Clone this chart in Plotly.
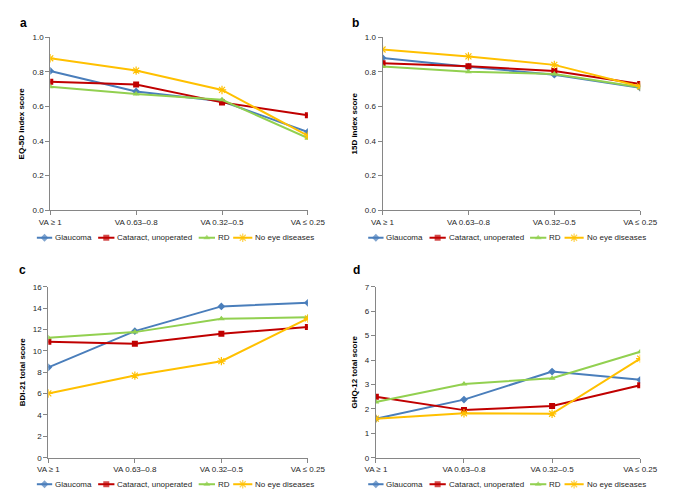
import plotly.graph_objects as go

categories = ["VA ≥ 1", "VA 0.63–0.8", "VA 0.32–0.5", "VA ≤ 0.25"]
series_names = ["Glaucoma", "Cataract, unoperated", "RD", "No eye diseases"]

eq5d_glaucoma = [0.806, 0.687, 0.630, 0.453]
eq5d_cataract = [0.744, 0.727, 0.624, 0.550]
eq5d_rd = [0.715, 0.672, 0.639, 0.417]
eq5d_noeye = [0.879, 0.808, 0.696, 0.431]

d15_glaucoma = [0.881, 0.830, 0.784, 0.708]
d15_cataract = [0.850, 0.833, 0.805, 0.731]
d15_rd = [0.831, 0.801, 0.788, 0.712]
d15_noeye = [0.930, 0.890, 0.841, 0.716]

bdi_glaucoma = [8.46, 11.85, 14.17, 14.50]
bdi_cataract = [10.87, 10.66, 11.60, 12.24]
bdi_rd = [11.24, 11.76, 13.01, 13.16]
bdi_noeye = [6.02, 7.69, 9.04, 13.04]

ghq_glaucoma = [1.60, 2.38, 3.53, 3.19]
ghq_cataract = [2.50, 1.95, 2.12, 2.97]
ghq_rd = [2.28, 3.02, 3.26, 4.34]
ghq_noeye = [1.60, 1.82, 1.80, 4.06]

colors = ["#4A7EBB", "#C00000", "#92D050", "#FFC000"]
symbols = ["diamond", "square", "triangle-up", "asterisk-open"]
msizes = [6, 6, 6, 7]

panels = [
    ("a", "EQ-5D index score", [eq5d_glaucoma, eq5d_cataract, eq5d_rd, eq5d_noeye], [0, 1], 0.2, "{:.1f}"),
    ("b", "15D index score", [d15_glaucoma, d15_cataract, d15_rd, d15_noeye], [0, 1], 0.2, "{:.1f}"),
    ("c", "BDI-21 total score", [bdi_glaucoma, bdi_cataract, bdi_rd, bdi_noeye], [0, 16], 2, "{:.0f}"),
    ("d", "GHQ-12 total score", [ghq_glaucoma, ghq_cataract, ghq_rd, ghq_noeye], [0, 7], 1, "{:.0f}"),
]

W, H = 685, 502
# layout boxes in pixels: (left, right, top, bottom)
boxes = [(41, 310, 34, 210), (388, 657, 34, 210), (39, 310, 288, 462), (381, 657, 288, 462)]
legend_y_px = [238, 238, 489, 489]
legend_x0_px = [0, 346, 0, 346]
legend_sym_start = [27, 91, 196, 232]
legend_sym_len = [16, 17, 17, 20]
label_pos = [(13, 19), (360, 19), (12, 271), (361, 271)]

fig = go.Figure()
font_family = "Liberation Sans, Arial, sans-serif"
axis_color = "#868686"
text_color = "#262626"

for i, (lab, ytitle, data, yr, dt, fmt) in enumerate(panels):
    n = i + 1
    xa = "x" if n == 1 else f"x{n}"
    ya = "y" if n == 1 else f"y{n}"
    for j, vals in enumerate(data):
        fig.add_trace(go.Scatter(
            x=categories, y=vals, name=series_names[j], mode="lines+markers",
            line=dict(color=colors[j], width=2),
            marker=dict(symbol=symbols[j], size=msizes[j], color=colors[j],
                        line=dict(color=colors[j], width=1.2 if j == 3 else 0)),
            xaxis=xa, yaxis=ya, showlegend=False,
        ))
    l, r, t, b = boxes[i]
    xkey = "xaxis" if n == 1 else f"xaxis{n}"
    ykey = "yaxis" if n == 1 else f"yaxis{n}"
    tickvals = []
    v = yr[0]
    while v <= yr[1] + 1e-9:
        tickvals.append(round(v, 4))
        v += dt
    fig.update_layout(**{
        xkey: dict(domain=[l / W, r / W], anchor=ya, type="category", range=[0, 3],
                   showline=True, linecolor=axis_color, linewidth=1, ticks="outside",
                   ticklen=4, tickcolor=axis_color, showgrid=False, zeroline=False,
                   tickfont=dict(size=8, color=text_color, family=font_family)),
        ykey: dict(domain=[1 - b / H, 1 - t / H], anchor=xa, range=yr,
                   tickvals=tickvals, ticktext=[fmt.format(x) for x in tickvals],
                   showline=True, linecolor=axis_color, linewidth=1, ticks="outside",
                   ticklen=4, tickcolor=axis_color, showgrid=False, zeroline=False,
                   tickfont=dict(size=8, color=text_color, family=font_family),
                   title=dict(text=f"<b>{ytitle}</b>", font=dict(size=8, color="#000", family=font_family), standoff=6)),
    })
    fig.add_annotation(text=f"<b>{lab}</b>", x=label_pos[i][0] / W, y=1 - label_pos[i][1] / H,
                       xref="paper", yref="paper", xanchor="center", yanchor="middle",
                       showarrow=False, font=dict(size=12, color="#000", family=font_family))

# Legends: drawn on a hidden overlay axis in pixel units
for i in range(4):
    ly = legend_y_px[i]
    for j in range(4):
        x0 = legend_x0_px[i] + legend_sym_start[j]
        x1 = x0 + legend_sym_len[j]
        fig.add_trace(go.Scatter(
            x=[x0, (x0 + x1) / 2, x1], y=[ly, ly, ly], mode="lines+markers",
            line=dict(color=colors[j], width=2),
            marker=dict(symbol=symbols[j], size=[0, msizes[j], 0], color=colors[j],
                        line=dict(color=colors[j], width=1.2 if j == 3 else 0)),
            xaxis="x5", yaxis="y5", showlegend=False, hoverinfo="skip",
        ))
        fig.add_annotation(text=series_names[j], x=(x1 + 1) / W, y=1 - ly / H,
                           xref="paper", yref="paper", xanchor="left", yanchor="middle",
                           showarrow=False, font=dict(size=8, color=text_color, family=font_family))

fig.update_layout(
    xaxis5=dict(domain=[0, 1], range=[0, W], visible=False, anchor="y5", fixedrange=True),
    yaxis5=dict(domain=[0, 1], range=[H, 0], visible=False, anchor="x5", fixedrange=True),
    width=W, height=H, margin=dict(l=0, r=0, t=0, b=0),
    plot_bgcolor="rgba(0,0,0,0)", paper_bgcolor="white")

fig.write_html("out.html", config={"displayModeBar": False},
               post_script="document.body.style.margin='0';document.body.style.overflow='hidden';")
